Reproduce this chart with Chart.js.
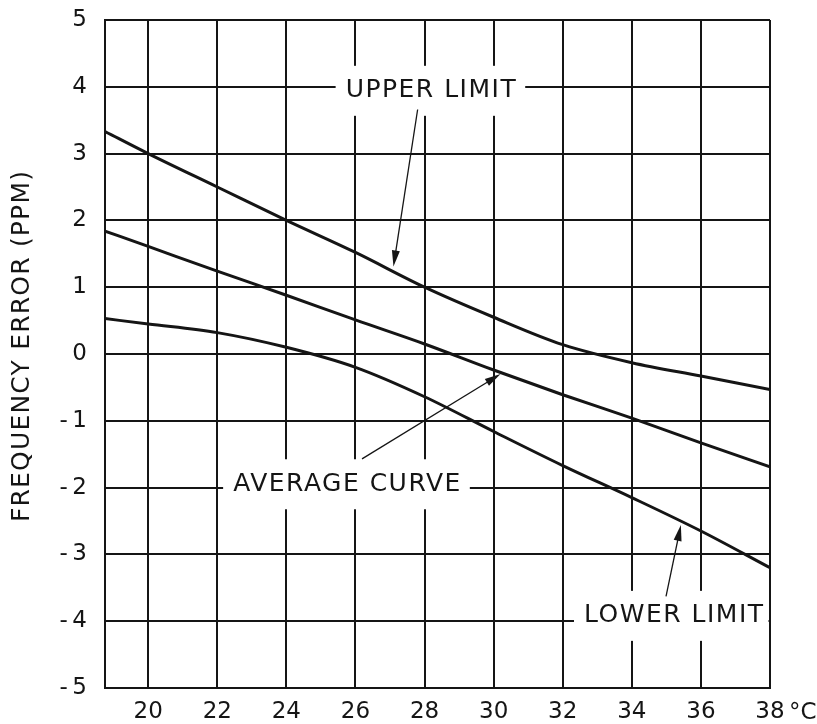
<!DOCTYPE html>
<html>
<head>
<meta charset="utf-8">
<title>Frequency error vs temperature</title>
<script src="https://cdn.jsdelivr.net/npm/chart.js@4/dist/chart.umd.min.js"></script>
<style>
    html, body { margin: 0; padding: 0; background: #fff; }
    #wrap { width: 817px; height: 724px; }
</style>
</head>
<body>
<div id="wrap"><canvas id="chart" width="817" height="724"></canvas></div>
<script>
// temperature (deg C) and frequency error (ppm)
var temps = [18.75, 20, 22, 24, 26, 28, 30, 32, 34, 36, 38];
var upperLimit = [3.33, 3.0, 2.5, 2.0, 1.52, 1.0, 0.55, 0.14, -0.13, -0.33, -0.53];
var averageCurve = [1.84, 1.61, 1.24, 0.88, 0.51, 0.15, -0.24, -0.61, -0.96, -1.33, -1.69];
var lowerLimit = [0.53, 0.45, 0.32, 0.10, -0.2, -0.64, -1.16, -1.67, -2.15, -2.65, -3.2];

var xTicks = [20, 22, 24, 26, 28, 30, 32, 34, 36, 38];
var yTicks = [-5, -4, -3, -2, -1, 0, 1, 2, 3, 4, 5];
var yTitle = 'FREQUENCY ERROR (PPM)';

// curve labels: text centre and arrow (tail -> tip), in data units
var noteText = ['UPPER LIMIT', 'AVERAGE CURVE', 'LOWER LIMIT'];
var noteX = [28.17, 25.74, 35.2];
var noteY = [3.94, -1.95, -3.92];
var arrowFrom = [[27.8, 3.66], [26.19, -1.57], [34.99, -3.63]];
var arrowTo = [[27.1, 1.31], [30.2, -0.30], [35.42, -2.56]];

var INK = '#151515';
var tickFont = { family: 'DejaVu Sans', size: 23 };
var noteFont = '25px "DejaVu Sans"';

var toPoints = function (ys) {
    return temps.map(function (t, i) { return { x: t, y: ys[i] }; });
};

var drawArrow = function (ctx, x0, y0, x1, y1) {
    var ang = Math.atan2(y1 - y0, x1 - x0);
    var len = 16, half = 4;
    ctx.beginPath();
    ctx.moveTo(x0, y0);
    ctx.lineTo(x1 - Math.cos(ang) * len * 0.8, y1 - Math.sin(ang) * len * 0.8);
    ctx.stroke();
    ctx.beginPath();
    ctx.moveTo(x1, y1);
    ctx.lineTo(x1 - Math.cos(ang) * len + Math.sin(ang) * half, y1 - Math.sin(ang) * len - Math.cos(ang) * half);
    ctx.lineTo(x1 - Math.cos(ang) * len - Math.sin(ang) * half, y1 - Math.sin(ang) * len + Math.cos(ang) * half);
    ctx.closePath();
    ctx.fill();
};

var notesPlugin = {
    id: 'notes',
    // white patches that break the grid behind the labels
    beforeDatasetsDraw: function (chart) {
        var ctx = chart.ctx, xs = chart.scales.x, ys = chart.scales.y, a = chart.chartArea;
        ctx.save();
        ctx.beginPath();
        ctx.rect(a.left + 1.5, a.top + 1.5, a.right - a.left - 3, a.bottom - a.top - 3);
        ctx.clip();
        ctx.font = noteFont;
        ctx.letterSpacing = '1.5px';
        ctx.fillStyle = '#fff';
        noteText.forEach(function (txt, i) {
            var cx = xs.getPixelForValue(noteX[i]);
            var cy = ys.getPixelForValue(noteY[i]);
            var w = ctx.measureText(txt).width;
            ctx.fillRect(cx - w / 2 - 9, cy - 25, w + 18, 50);
        });
        ctx.restore();
    },
    afterDatasetsDraw: function (chart) {
        var ctx = chart.ctx, xs = chart.scales.x, ys = chart.scales.y, a = chart.chartArea;
        ctx.save();
        ctx.font = noteFont;
        ctx.letterSpacing = '1.5px';
        ctx.fillStyle = INK;
        ctx.strokeStyle = INK;
        ctx.textAlign = 'center';
        ctx.textBaseline = 'middle';
        noteText.forEach(function (txt, i) {
            ctx.fillText(txt, xs.getPixelForValue(noteX[i]) + 1, ys.getPixelForValue(noteY[i]));
        });
        ctx.lineWidth = 1.3;
        arrowFrom.forEach(function (p, i) {
            drawArrow(ctx,
                xs.getPixelForValue(p[0]), ys.getPixelForValue(p[1]),
                xs.getPixelForValue(arrowTo[i][0]), ys.getPixelForValue(arrowTo[i][1]));
        });
        // y axis title, spaced out like the original lettering
        ctx.save();
        ctx.translate(22, (a.top + a.bottom) / 2 - 8);
        ctx.rotate(-Math.PI / 2);
        ctx.font = '25px "DejaVu Sans"';
        ctx.letterSpacing = '1.2px';
        ctx.fillText(yTitle, 0, 0);
        ctx.restore();
        // unit after the last x tick
        ctx.letterSpacing = '0px';
        ctx.font = tickFont.size + 'px "' + tickFont.family + '"';
        ctx.textAlign = 'left';
        ctx.fillText('\u00B0C', a.right + 19, a.bottom + 25);
        ctx.restore();
    }
};

var lineSet = function (label, ys) {
    return {
        label: label,
        data: toPoints(ys),
        borderColor: INK,
        borderWidth: 3,
        pointRadius: 0,
        fill: false,
        cubicInterpolationMode: 'monotone'
    };
};

var chart = new Chart(document.getElementById('chart').getContext('2d'), {
    type: 'line',
    data: {
        datasets: [
            lineSet('Upper limit', upperLimit),
            lineSet('Average curve', averageCurve),
            lineSet('Lower limit', lowerLimit)
        ]
    },
    options: {
        responsive: false,
        animation: false,
        layout: { padding: { top: 20, right: 47, left: 0, bottom: 0 } },
        plugins: {
            legend: { display: false },
            tooltip: { enabled: false }
        },
        scales: {
            x: {
                type: 'linear',
                min: 18.75,
                max: 38,
                afterBuildTicks: function (scale) {
                    scale.ticks = xTicks.map(function (v) { return { value: v }; });
                },
                afterFit: function (scale) {
                    scale.height = 36;
                    scale.paddingLeft = 0;
                    scale.paddingRight = 0;
                },
                ticks: {
                    color: INK,
                    font: tickFont,
                    padding: 10,
                    maxRotation: 0,
                    autoSkip: false
                },
                grid: { color: INK, lineWidth: 2, drawTicks: false },
                border: { color: INK, width: 2 }
            },
            y: {
                min: -5,
                max: 5,
                afterBuildTicks: function (scale) {
                    scale.ticks = yTicks.map(function (v) { return { value: v }; });
                },
                afterFit: function (scale) {
                    scale.width = 105;
                    scale.paddingTop = 0;
                    scale.paddingBottom = 0;
                },
                ticks: {
                    color: INK,
                    font: tickFont,
                    padding: 18,
                    callback: function (v) { return v < 0 ? '-\u2009' + Math.abs(v) : String(v); }
                },
                grid: { color: INK, lineWidth: 2, drawTicks: false },
                border: { color: INK, width: 2 }
            }
        }
    },
    plugins: [notesPlugin]
});
</script>
</body>
</html>
